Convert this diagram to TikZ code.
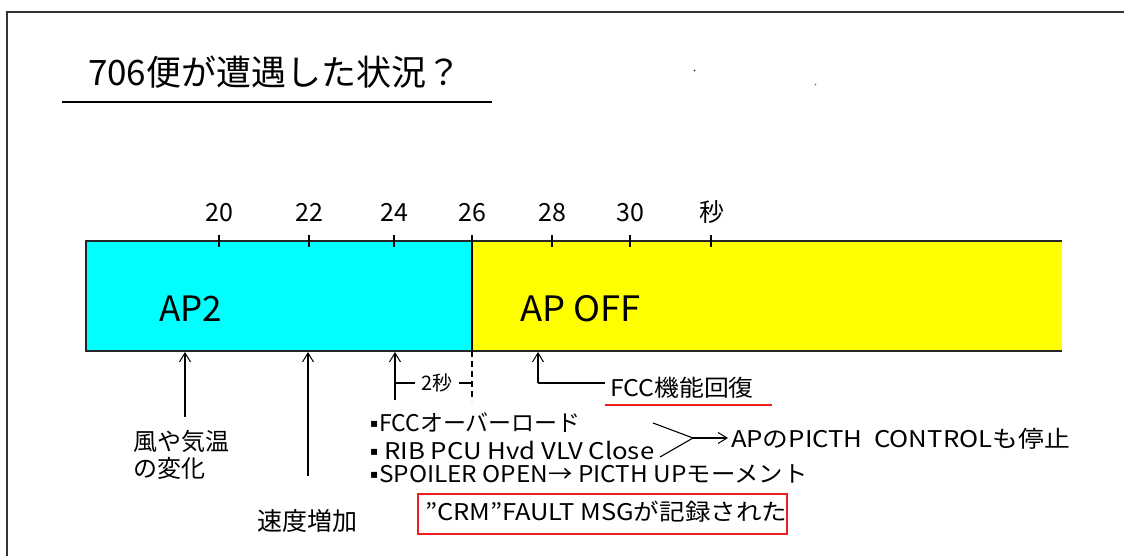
\documentclass[tikz,border=0pt]{standalone}
\usepackage{fontspec}
\setmainfont{Noto Sans CJK JP}
\newfontfamily\dejavu{DejaVu Sans}
\usetikzlibrary{arrows.meta}
\definecolor{cy}{RGB}{0,255,255}
\definecolor{yl}{RGB}{255,255,0}
\definecolor{rd}{RGB}{240,30,30}
\newcommand{\sq}{\raisebox{4pt}{\dejavu\fontsize{12}{14}\selectfont ▪}\hspace{1pt}}
\newcommand{\wide}[2]{\scalebox{#1}[1]{#2}}
\tikzset{
  every node/.style={inner sep=0pt, outer sep=0pt},
  lbl/.style={anchor=base west, font=\fontsize{23}{26}\selectfont},
  tick/.style={font=\fontsize{25}{27}\selectfont, anchor=base},
  ln/.style={line width=1.1pt, black},
  barb/.style={ln, -{Straight Barb[length=9pt,width=11pt,line width=1pt]}},
  frame/.style={line width=1.4pt, black!80},
}
\begin{document}
\begin{tikzpicture}[x=1pt,y=-1pt]
\useasboundingbox (0,0) rectangle (1124,556);
\fill[white] (0,0) rectangle (1124,556);
% frame
\draw[frame] (7,556) -- (7,12) -- (1124,12);
% title
\node[anchor=base west, font=\fontsize{35}{40}\selectfont] (title) at (88,86) {706便が遭遇した状況？};
\draw[ln] (62,102) -- (492,102);
% specks
\fill[black] (694.5,70.5) circle (0.9pt);
\fill[black!60] (815.5,84.5) circle (0.9pt);
% bar
\fill[cy] (86,241) rectangle (472,351);
\fill[yl] (472,241) rectangle (1062,351);
\draw[line width=1.4pt, black!85] (1062,241) -- (86,241) -- (86,351) -- (1062,351);
\draw[ln] (472,235) -- (472,351);
\node[anchor=base west, font=\fontsize{35}{38}\selectfont] (ap2) at (159,321) {AP2};
\node[anchor=base west, font=\fontsize{35}{38}\selectfont] (apoff) at (520,321) {\wide{1.04}{AP OFF}};
% ticks
\foreach \x/\t in {219/20,309/22,394/24,472/26,552/28,630/30}{
  \draw[ln] (\x,235) -- (\x,247);
  \node[tick] at (\x,222) {\t};
}
\draw[ln] (711,235) -- (711,247);
\node[tick] (sec) at (712,222) {秒};
% arrows up
\coordinate (a1) at (185,352);
\coordinate (a2) at (308,352);
\coordinate (a3) at (395,352);
\coordinate (a4) at (538,352);
\draw[barb] (185,417) -- (a1);
\draw[barb] (308,476) -- (a2);
\draw[barb] (395,400) -- (a3);
\draw[barb] (538,383) -- (a4);
% 2 sec dimension
\node[anchor=base, font=\fontsize{20}{22}\selectfont] (two) at (437,390) {2秒};
\draw[ln] (395,383) -- (415,383);
\draw[ln] (459,383) -- (472,383);
\draw[ln, dash pattern=on 6pt off 4pt] (472,351) -- (472,401);
% FCC recover
\node[anchor=base west, font=\fontsize{23}{25}\selectfont] (fcc) at (610,396) {\wide{1.08}{FCC機能回復}};
\draw[ln] (538,383) -- (605,383);
\draw[line width=1.2pt, rd] (605,405) -- (772,405);
% left labels
\node[anchor=base west, font=\fontsize{24}{26}\selectfont] (wind) at (133,450) {風や気温};
\node[anchor=base west, font=\fontsize{24}{26}\selectfont] (wind2) at (133,477) {の変化};
\node[anchor=base west, font=\fontsize{25}{28}\selectfont] (speed) at (257,530) {速度増加};
% bullet list
\node[lbl] (b1) at (370,431) {\sq FCCオーバーロード};
\node[lbl] (b2) at (370,459) {\sq\ \wide{1.12}{RIB PCU Hvd VLV Close}};
\node[lbl] (b3) at (370,482) {\sq\wide{1.06}{SPOILER OPEN→ PICTH UPモーメント}};
\coordinate (j) at (693,438);
\draw[ln] (653,423) -- (j);
\draw[ln] (660,457) -- (j);
\draw[barb] (j) -- (728,438);
\node[anchor=base west, font=\fontsize{23}{26}\selectfont] (apc) at (731,447) {\wide{1.12}{APのPICTH\ \ CONTROLも停止}};
% red box
\node[draw=rd, line width=1.2pt, minimum width=369pt, minimum height=40pt, anchor=north west] (crm) at (418,494) {};
\node[anchor=base west, font=\fontsize{23}{26}\selectfont] (crmt) at (425,520) {\wide{1.11}{”CRM”FAULT MSGが記録された}};
\end{tikzpicture}
\end{document}
